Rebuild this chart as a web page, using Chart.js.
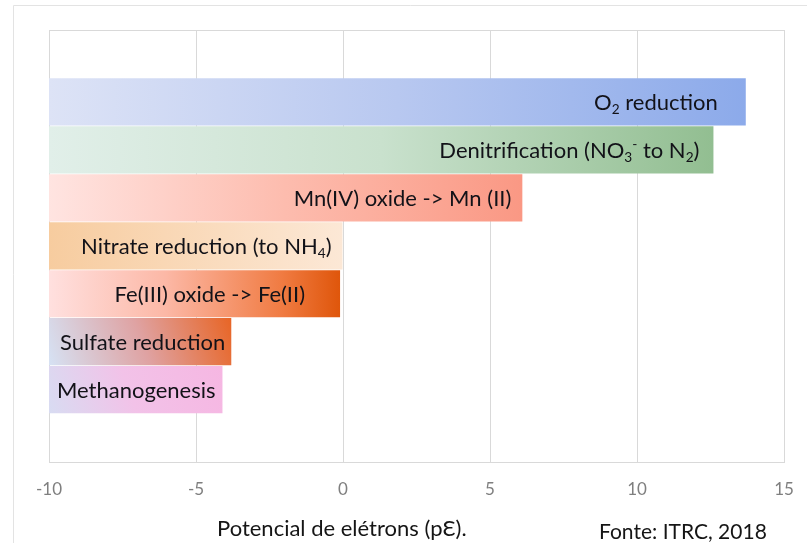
<!DOCTYPE html>
<html>
<head>
<meta charset="utf-8">
<script src="https://cdn.jsdelivr.net/npm/chart.js@4/dist/chart.umd.min.js"></script>
<style>
  html, body { margin: 0; padding: 0; background: #fff; overflow: hidden; }
</style>
</head>
<body>
<canvas id="chart" width="807" height="543"></canvas>
<script>
// Redox processes, from most to least oxidising (_{..} subscript, ^{..} superscript)
const processes = [
  'O_{2} reduction',
  'Denitrification (NO_{3}^{-} to N_{2})',
  'Mn(IV) oxide -> Mn (II)',
  'Nitrate reduction (to NH_{4})',
  'Fe(III) oxide -> Fe(II)',
  'Sulfate reduction',
  'Methanogenesis'
];
// Electron potential (pE) reached by each process
const peValues = [13.7, 12.6, 6.1, 0.0, -0.1, -3.8, -4.1];
// Bars start from the low end of the pE axis
const pAxisStart = -10;
const pAxisEnd = 15;
const pAxisStep = 5;

const axisTitle = 'Potencial de elétrons (pƐ).';
const sourceNote = 'Fonte: ITRC, 2018';

// Fill of each bar: gradient direction and colour stops
const barFills = [
  { dir: 'h',  stops: [[0, '#dde3f6'], [0.5, '#b8c8f0'], [1, '#8caaea']] },
  { dir: 'h',  stops: [[0, '#e1efe9'], [0.5, '#c9e1cd'], [1, '#92be91']] },
  { dir: 'h',  stops: [[0, '#ffe4e1'], [0.5, '#fdbcae'], [1, '#fa9884']] },
  { dir: 'h',  stops: [[0, '#f7cc9f'], [1, '#fce8d6']] },
  { dir: 'h',  stops: [[0, '#ffe0df'], [0.4, '#fcb8a6'], [0.8, '#f07b42'], [1, '#df560b']] },
  { dir: 'd',  stops: [[0, '#d6e2f4'], [0.5, '#dfa2a2'], [1, '#e8621f']] },
  { dir: 'd',  stops: [[0, '#d8dcf2'], [0.45, '#f2c2e8'], [1, '#f6b6e2']] }
];
// Where each label sits inside its bar, and its gap from that edge (px)
const labelAnchor = ['end', 'end', 'end', 'end', 'end', 'start', 'start'];
const labelGap = [28, 14, 11, 11, 35, 11, 8];

// one empty slot above and below the bars
const categories = [''].concat(processes.map((p, i) => 'p' + i), ['']);
const barData = [null].concat(peValues.map(v => [pAxisStart, v]), [null]);

function barFill(ctx) {
  const chart = ctx.chart;
  const i = ctx.dataIndex - 1;
  const spec = barFills[i];
  if (!spec || !chart.chartArea) return '#ccc';
  const xs = chart.scales.x, ys = chart.scales.y;
  const x0 = xs.getPixelForValue(pAxisStart);
  const x1 = xs.getPixelForValue(peValues[i]);
  const yc = ys.getPixelForValue(ctx.dataIndex);
  const half = ys.height / categories.length / 2;
  const g = spec.dir === 'h'
    ? chart.ctx.createLinearGradient(x0, yc, x1, yc)
    : chart.ctx.createLinearGradient(x0, yc + half, x1, yc - half * 1.6);
  spec.stops.forEach(s => g.addColorStop(s[0], s[1]));
  return g;
}

function parseRich(str) {
  const out = [];
  const re = /_\{([^}]*)\}|\^\{([^}]*)\}|([^_^]+)/g;
  let m;
  while ((m = re.exec(str))) {
    if (m[1] !== undefined) out.push({ t: m[1], k: 'sub' });
    else if (m[2] !== undefined) out.push({ t: m[2], k: 'sup' });
    else out.push({ t: m[3], k: 'n' });
  }
  return out;
}

const FONT = 'Lato, "Open Sans", sans-serif';
const LABEL_SIZE = 22;

function richWidth(ctx, segs) {
  let w = 0;
  segs.forEach(s => {
    const size = s.k === 'n' ? LABEL_SIZE : LABEL_SIZE * 0.62;
    ctx.font = size + 'px ' + FONT;
    w += ctx.measureText(s.t).width;
  });
  return w;
}

const barLabels = {
  id: 'barLabels',
  afterDatasetsDraw(chart) {
    const ctx = chart.ctx;
    const meta = chart.getDatasetMeta(0);
    ctx.save();
    ctx.fillStyle = '#121218';
    ctx.textBaseline = 'middle';
    ctx.textAlign = 'left';
    processes.forEach((p, i) => {
      const el = meta.data[i + 1];
      if (!el) return;
      const segs = parseRich(p);
      const w = richWidth(ctx, segs);
      const left = Math.min(el.base, el.x), right = Math.max(el.base, el.x);
      let x = labelAnchor[i] === 'end' ? right - labelGap[i] - w : left + labelGap[i];
      const y = el.y + 1;
      segs.forEach(s => {
        let size = LABEL_SIZE, dy = 0;
        if (s.k === 'sub') { size = LABEL_SIZE * 0.62; dy = LABEL_SIZE * 0.3; }
        if (s.k === 'sup') { size = LABEL_SIZE * 0.62; dy = -LABEL_SIZE * 0.3; }
        ctx.font = size + 'px ' + FONT;
        ctx.fillText(s.t, x, y + dy);
        x += ctx.measureText(s.t).width;
      });
    });
    ctx.restore();
  }
};

const frame = {
  id: 'frame',
  beforeDatasetsDraw(chart) {
    const { ctx, chartArea: a } = chart;
    ctx.save();
    ctx.strokeStyle = '#d9d9d9';
    ctx.lineWidth = 1;
    ctx.strokeRect(Math.round(a.left) + 0.5, Math.round(a.top) + 0.5,
                   Math.round(a.right - a.left), Math.round(a.bottom - a.top));
    // outer border of the figure
    ctx.strokeStyle = '#e3e3e3';
    ctx.beginPath();
    ctx.moveTo(13.5, chart.height);
    ctx.lineTo(13.5, 5.5);
    ctx.lineTo(chart.width, 5.5);
    ctx.stroke();
    ctx.restore();
  }
};

const footer = {
  id: 'footer',
  afterDraw(chart) {
    const ctx = chart.ctx;
    ctx.save();
    ctx.fillStyle = '#151515';
    ctx.textBaseline = 'middle';
    ctx.textAlign = 'left';
    ctx.font = '22px ' + FONT;
    ctx.fillText(axisTitle, 217, 529);
    ctx.font = '21px ' + FONT;
    ctx.fillText(sourceNote, 599, 532);
    ctx.restore();
  }
};

new Chart(document.getElementById('chart'), {
  type: 'bar',
  data: {
    labels: categories,
    datasets: [{
      data: barData,
      backgroundColor: barFill,
      borderWidth: 0,
      barPercentage: 0.985,
      categoryPercentage: 1
    }]
  },
  options: {
    indexAxis: 'y',
    responsive: false,
    animation: false,
    layout: { padding: { left: 49, right: 23, top: 30, bottom: 25 } },
    plugins: { legend: { display: false }, tooltip: { enabled: false } },
    scales: {
      x: {
        min: pAxisStart,
        max: pAxisEnd,
        ticks: {
          stepSize: pAxisStep,
          padding: 18,
          color: '#7f7f7f',
          font: { family: FONT, size: 17 }
        },
        grid: { color: '#d9d9d9', drawTicks: false },
        border: { display: false },
        afterFit(scale) {
          // edge tick labels fit inside the layout padding
          scale.paddingLeft = 0;
          scale.paddingRight = 0;
        }
      },
      y: {
        display: false
      }
    }
  },
  plugins: [frame, barLabels, footer]
});
</script>
</body>
</html>
